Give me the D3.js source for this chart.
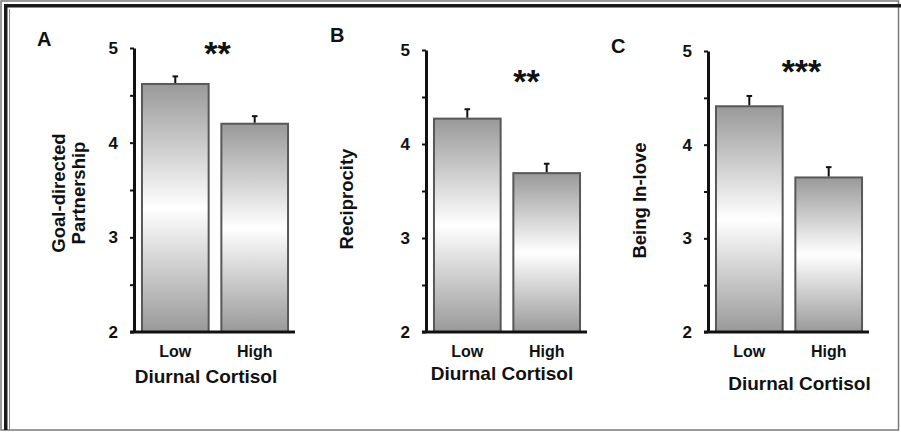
<!DOCTYPE html>
<html lang="en">
<head>
  <meta charset="UTF-8">
  <title>Diurnal Cortisol bar charts</title>
  <script src="https://d3js.org/d3.v7.min.js"></script>
  <style>
    body {
      margin: 0;
      background: #fff;
    }

    svg text {
      font-family: "Liberation Sans", Arial, sans-serif;
      font-weight: bold;
      fill: #111;
    }

    .bar {
      stroke: #585858;
      stroke-width: 2px;
    }

    .err {
      stroke: #111;
      stroke-width: 2px;
    }
  </style>
</head>
<body>

  <svg id="chart" width="901" height="432"></svg>

  <script>
    // Data
    const panels = ["A", "B", "C"];
    const categories = ["Low", "High"];
    const xTitle = "Diurnal Cortisol";
    const yTitles = [["Goal-directed", "Partnership"], ["Reciprocity"], ["Being In-love"]];
    const meansA = [4.62, 4.20];
    const meansB = [4.27, 3.69];
    const meansC = [4.41, 3.65];
    const errA = [0.08, 0.08];
    const errB = [0.10, 0.10];
    const errC = [0.11, 0.11];
    const stars = ["**", "**", "***"];
    const yTicks = [2, 2.5, 3, 3.5, 4, 4.5, 5];
    const yDomain = [2, 5];

    const means = [meansA, meansB, meansC];
    const errs = [errA, errB, errC];

    // Where each panel sits on the page
    const layout = [
      { axisX: 134, yTop: 48, yBot: 332, xEnd: 295, letter: [37, 46], star: [217.5, 45], yTitle: [65, 193], xTitle: [206, 383] },
      { axisX: 426, yTop: 50, yBot: 332, xEnd: 587, letter: [330, 42], star: [526.5, 73], yTitle: [353, 199], xTitle: [502, 380] },
      { axisX: 708, yTop: 51, yBot: 332, xEnd: 869, letter: [611, 53], star: [801.5, 63], yTitle: [646, 200.5], xTitle: [799.5, 390] }
    ];

    const svg = d3.select("#chart");

    // Bar gradient: grey at top and bottom, white in the middle
    const grad = svg.append("defs").append("linearGradient")
      .attr("id", "barGrad")
      .attr("x1", 0).attr("y1", 0).attr("x2", 0).attr("y2", 1);
    grad.append("stop").attr("offset", "0%").attr("stop-color", "#999999");
    grad.append("stop").attr("offset", "22%").attr("stop-color", "#c6c6c6");
    grad.append("stop").attr("offset", "50%").attr("stop-color", "#ffffff");
    grad.append("stop").attr("offset", "78%").attr("stop-color", "#c6c6c6");
    grad.append("stop").attr("offset", "100%").attr("stop-color", "#999999");

    // Page frame
    svg.append("rect").attr("width", 901).attr("height", 432).attr("fill", "#fff");
    svg.append("rect")
      .attr("x", 1).attr("y", 1).attr("width", 897.5).attr("height", 429)
      .attr("fill", "none").attr("stroke", "#7a7a7a").attr("stroke-width", 1.5);
    svg.append("rect").attr("x", 4).attr("y", 4).attr("width", 897).attr("height", 3.5).attr("fill", "#1a1a1a");
    svg.append("rect").attr("x", 4).attr("y", 4).attr("width", 3.5).attr("height", 426).attr("fill", "#1a1a1a");
    svg.append("line")
      .attr("x1", 9.5).attr("y1", 9).attr("x2", 9.5).attr("y2", 430)
      .attr("stroke", "#8a8a8a").attr("stroke-width", 1);

    panels.forEach((p, i) => {
      const L = layout[i];
      const g = svg.append("g");

      const y = d3.scaleLinear().domain(yDomain).range([L.yBot, L.yTop]);
      const x = d3.scaleBand()
        .domain(categories)
        .range([L.axisX + 4, L.xEnd - 3])
        .paddingInner(0.16)
        .paddingOuter(0.05);

      const rows = categories.map((c, j) => ({ cat: c, mean: means[i][j], err: errs[i][j] }));

      // bars
      g.selectAll(".bar")
        .data(rows)
        .enter().append("rect")
        .attr("class", "bar")
        .attr("fill", "url(#barGrad)")
        .attr("x", d => x(d.cat))
        .attr("width", x.bandwidth())
        .attr("y", d => y(d.mean))
        .attr("height", d => y(yDomain[0]) - y(d.mean));

      // error bars (upper only)
      g.selectAll(".err-stem")
        .data(rows)
        .enter().append("line")
        .attr("class", "err")
        .attr("x1", d => x(d.cat) + x.bandwidth() / 2)
        .attr("x2", d => x(d.cat) + x.bandwidth() / 2)
        .attr("y1", d => y(d.mean) - 1)
        .attr("y2", d => y(d.mean + d.err));

      g.selectAll(".err-cap")
        .data(rows)
        .enter().append("line")
        .attr("class", "err")
        .attr("x1", d => x(d.cat) + x.bandwidth() / 2 - 2.8)
        .attr("x2", d => x(d.cat) + x.bandwidth() / 2 + 2.8)
        .attr("y1", d => y(d.mean + d.err))
        .attr("y2", d => y(d.mean + d.err));

      // y axis
      const yAxis = g.append("g")
        .attr("transform", `translate(${L.axisX},0)`)
        .call(d3.axisLeft(y)
          .tickValues(yTicks)
          .tickSize(4)
          .tickSizeOuter(0)
          .tickPadding(12)
          .tickFormat(d => Number.isInteger(d) ? d : ""));
      yAxis.select(".domain").attr("stroke", "#111").attr("stroke-width", 3);
      yAxis.selectAll(".tick line").attr("stroke", "#111").attr("stroke-width", 2);
      yAxis.selectAll(".tick text")
        .style("font-size", "17px")
        .attr("fill", "#111");

      // x axis
      g.append("line")
        .attr("x1", L.axisX - 4).attr("x2", L.xEnd)
        .attr("y1", L.yBot).attr("y2", L.yBot)
        .attr("stroke", "#111").attr("stroke-width", 3);

      const xAxis = g.append("g")
        .attr("transform", `translate(0,${L.yBot})`)
        .call(d3.axisBottom(x).tickSize(0).tickPadding(14));
      xAxis.select(".domain").remove();
      xAxis.selectAll(".tick text")
        .style("font-size", "16px")
        .attr("fill", "#111");

      // titles
      g.append("text")
        .attr("x", L.xTitle[0]).attr("y", L.xTitle[1])
        .attr("text-anchor", "middle")
        .style("font-size", "19px")
        .text(xTitle);

      const yt = g.append("text")
        .attr("transform", `translate(${L.yTitle[0]},${L.yTitle[1]}) rotate(-90)`)
        .attr("text-anchor", "middle")
        .style("font-size", "18.5px");
      yTitles[i].forEach((line, k) => {
        yt.append("tspan").attr("x", 0).attr("y", k * 20).text(line);
      });

      // panel letter
      g.append("text")
        .attr("x", L.letter[0]).attr("y", L.letter[1])
        .style("font-size", "20px")
        .text(p);

      // significance stars
      g.append("text")
        .attr("x", L.star[0]).attr("y", L.star[1] + 0.58 * 34)
        .attr("text-anchor", "middle")
        .style("font-size", "34px")
        .text(stars[i]);
    });
  </script>

</body>
</html>
